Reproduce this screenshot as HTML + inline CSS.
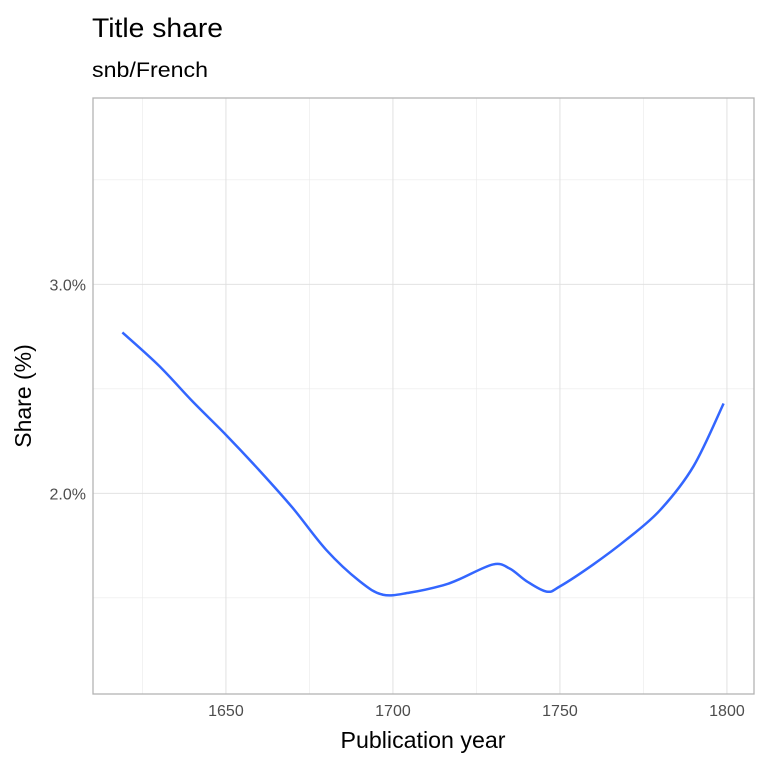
<!DOCTYPE html>
<html><head><meta charset="utf-8"><style>
body{margin:0;background:#fff;}
svg text{font-family:"Liberation Sans",sans-serif;}
</style></head><body>
<svg width="768" height="768">
<text x="92" y="37" font-size="27" fill="#000" textLength="131" lengthAdjust="spacingAndGlyphs">Title share</text>
<text x="92" y="77" font-size="21" fill="#000" textLength="116" lengthAdjust="spacingAndGlyphs">snb/French</text>
<g id="grid"></g>
<g id="marks"></g>
<rect x="93" y="98" width="661" height="596" fill="none" stroke="#b3b3b3" stroke-width="1.3"/>
<g id="axes"></g>
<text x="423" y="748" font-size="23" text-anchor="middle" fill="#000" textLength="165" lengthAdjust="spacingAndGlyphs">Publication year</text>
<text transform="translate(31,396) rotate(-90)" font-size="23" text-anchor="middle" fill="#000">Share (%)</text>
</svg>
<script>
const years=[1619,1630,1640,1650,1660,1670,1680,1690,1697,1705,1715,1720,1730,1735,1740,1746,1750,1760,1770,1780,1790,1799];
const shares=[2.77,2.61,2.44,2.28,2.11,1.93,1.73,1.58,1.515,1.525,1.56,1.59,1.66,1.64,1.58,1.53,1.555,1.66,1.78,1.92,2.13,2.43];
const xTicks=[1650,1700,1750,1800];
const xMinor=[1625,1675,1725,1775];
const yTicks=[2.0,3.0];
const yTickLabels=["2.0%","3.0%"];
const yMinor=[1.5,2.5,3.5];
const X=v=>93+(v-1610.2)*(661/197.9);
const Y=v=>694-(v-1.04)*209;
const NS="http://www.w3.org/2000/svg";
const grid=document.getElementById('grid'),axes=document.getElementById('axes'),marks=document.getElementById('marks');
function line(p,x1,y1,x2,y2,w,c,n){const l=document.createElementNS(NS,'line');l.setAttribute('x1',x1);l.setAttribute('y1',y1);l.setAttribute('x2',x2);l.setAttribute('y2',y2);l.setAttribute('stroke',c);l.setAttribute('stroke-width',w);


p.appendChild(l);}
xMinor.forEach(v=>line(grid,X(v),98,X(v),694,0.5,'#e6e6e6','x-minor-gridline'));
yMinor.forEach(v=>line(grid,93,Y(v),754,Y(v),0.5,'#e6e6e6','y-minor-gridline'));
xTicks.forEach(v=>{line(grid,X(v),98,X(v),694,0.9,'#dedede','x-gridline');
const t=document.createElementNS(NS,'text');t.setAttribute('x',X(v));t.setAttribute('y',716);t.setAttribute('font-size','16');t.setAttribute('text-anchor','middle');t.setAttribute('fill','#4d4d4d');t.textContent=v;


axes.appendChild(t);});
yTicks.forEach((v,i)=>{line(grid,93,Y(v),754,Y(v),0.9,'#dedede','y-gridline');
const t=document.createElementNS(NS,'text');t.setAttribute('x',86);t.setAttribute('y',Y(v)+6);t.setAttribute('font-size','16');t.setAttribute('text-anchor','end');t.setAttribute('fill','#4d4d4d');t.textContent=yTickLabels[i];


axes.appendChild(t);});
const pts=years.map((y,i)=>[X(y),Y(shares[i])]);
let d='M'+pts[0][0]+','+pts[0][1];
for(let i=0;i<pts.length-1;i++){const p0=pts[i-1]||pts[i],p1=pts[i],p2=pts[i+1],p3=pts[i+2]||p2;
d+=` C${p1[0]+(p2[0]-p0[0])/6},${p1[1]+(p2[1]-p0[1])/6} ${p2[0]-(p3[0]-p1[0])/6},${p2[1]-(p3[1]-p1[1])/6} ${p2[0]},${p2[1]}`;}
const path=document.createElementNS(NS,'path');path.setAttribute('d',d);path.setAttribute('fill','none');path.setAttribute('stroke','#3366ff');path.setAttribute('stroke-width','2.5');


marks.appendChild(path);
</script>
</body></html>
